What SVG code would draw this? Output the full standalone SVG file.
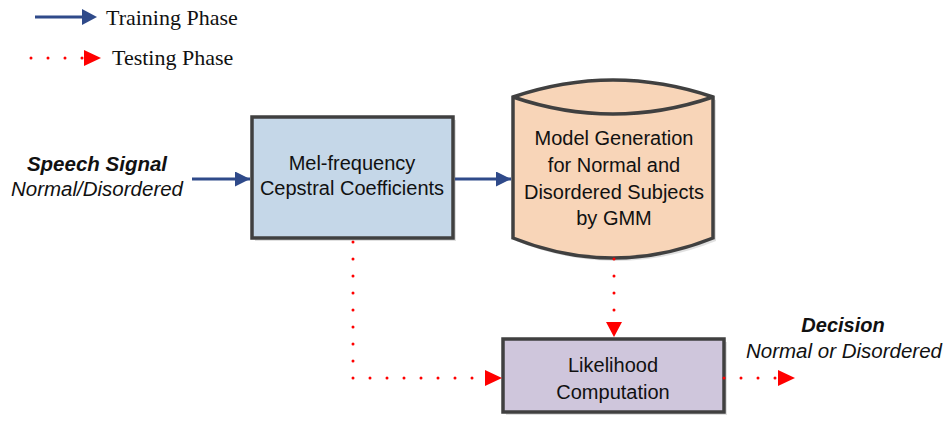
<svg xmlns="http://www.w3.org/2000/svg" width="945" height="421" viewBox="0 0 945 421">
<style>
.box{stroke:#404040;stroke-width:3.5}
.shadow{fill:#000;opacity:0.12}
.t{font-family:"Liberation Sans","Open Sans",sans-serif;font-size:20px;fill:#111;text-anchor:middle}
.leg{font-family:"Liberation Serif",serif;font-size:22px;fill:#111}
.train{stroke:#2f4a8a;stroke-width:3;fill:none}
.test{stroke:#ff0000;stroke-width:3;fill:none;stroke-dasharray:0 17;stroke-linecap:round}
</style>
<defs>
<marker id="abL" viewBox="0 0 10 10" refX="10" refY="5" markerWidth="15" markerHeight="15" markerUnits="userSpaceOnUse" orient="auto">
<path d="M0,0 L10,5 L0,10 z" fill="#2f4a8a"/>
</marker>
</defs>

<g id="legend">
<line x1="35" y1="17" x2="82" y2="17" class="train"/>
<path d="M82,9 L97,17 L82,25 z" fill="#2f4a8a"/>
<text x="106" y="25" class="leg">Training Phase</text>
<line x1="31" y1="58" x2="85" y2="58" class="test"/>
<path d="M84,50 L101,58 L84,66 z" fill="#ff0000"/>
<text x="112" y="65" class="leg">Testing Phase</text>
</g>

<g id="speech">
<text x="97" y="171" class="t" style="font-weight:bold;font-style:italic;font-size:20.5px">Speech Signal</text>
<text x="97" y="196" class="t" style="font-style:italic;font-size:20.5px">Normal/Disordered</text>
</g>

<g id="mfcc">
<rect x="255" y="120" width="201" height="121" class="shadow"/>
<rect x="252" y="117" width="201" height="121" fill="#c5d7e8" class="box"/>
<text x="352" y="170" class="t">Mel-frequency</text>
<text x="352" y="195" class="t">Cepstral Coefficients</text>
</g>

<g id="model">
<path d="M516,100 Q616,80 716,100 L716,241 Q616,281 516,241 Z" class="shadow"/>
<path d="M513,97 Q613,63 713,97 L713,238 Q613,278 513,238 Z" fill="#f8d5b8" class="box"/>
<path d="M513,97 Q613,131 713,97" fill="none" class="box"/>
<text x="614" y="145" class="t">Model Generation</text>
<text x="614" y="172" class="t">for Normal and</text>
<text x="614" y="199" class="t">Disordered Subjects</text>
<text x="614" y="225" class="t">by GMM</text>
</g>

<g id="likelihood">
<rect x="506" y="342" width="221" height="73" class="shadow"/>
<rect x="503" y="339" width="221" height="73" fill="#cfc6dc" class="box"/>
<text x="613" y="372" class="t">Likelihood</text>
<text x="613" y="399" class="t">Computation</text>
</g>

<g id="decision">
<text x="843" y="332" class="t" style="font-weight:bold;font-style:italic">Decision</text>
<text x="844" y="358" class="t" style="font-style:italic;font-size:20.5px">Normal or Disordered</text>
</g>

<g id="connectors">
<line x1="192" y1="179" x2="250" y2="179" class="train" marker-end="url(#abL)"/>
<line x1="455" y1="179" x2="511" y2="179" class="train" marker-end="url(#abL)"/>
<path d="M353,242 L353,378 L486,378" class="test"/>
<path d="M485,370 L502,378 L485,386 z" fill="#ff0000"/>
<path d="M614,259 L614,322" class="test"/>
<path d="M606,322 L614,337 L622,322 z" fill="#ff0000"/>
<path d="M724,378 L780,378" class="test"/>
<path d="M778,370 L795,378 L778,386 z" fill="#ff0000"/>
</g>
</svg>
